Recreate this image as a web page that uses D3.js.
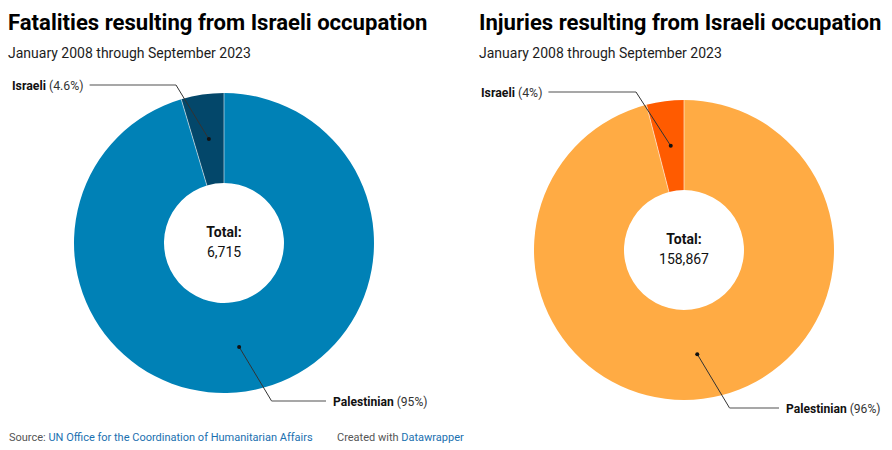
<!DOCTYPE html>
<html><head><meta charset="utf-8">
<script src="https://cdn.jsdelivr.net/npm/d3@7"></script>
<style>
body{margin:0;background:#fff;font-family:Roboto,"Noto Sans",sans-serif;}
svg{display:block}
</style></head>
<body>
<svg id="c" width="892" height="450"></svg>
<script>
const categories = ["Palestinian", "Israeli"];
const fatalities = [6406, 309];
const fatalityLabels = ["95%", "4.6%"];
const injuries = [152467, 6400];
const injuryLabels = ["96%", "4%"];
const titles = ["Fatalities resulting from Israeli occupation", "Injuries resulting from Israeli occupation"];
const subtitle = "January 2008 through September 2023";
const totals = ["6,715", "158,867"];

const svg = d3.select("#c");

const charts = [
  {x0: 8, title: titles[0], values: fatalities, labels: fatalityLabels, total: totals[0],
   cx: 224, cy: 243, colors: ["#0081b6", "#03476a"], sep: "rgba(255,255,255,0.55)",
   israeliLabel: {x: 12, y: 85, bendX: 176}, palLabel: {bendY: 401, textX: 333}},
  {x0: 479, title: titles[1], values: injuries, labels: injuryLabels, total: totals[1],
   cx: 684, cy: 250, colors: ["#ffab44", "#ff5b00"], sep: "rgba(255,255,255,0.55)",
   israeliLabel: {x: 481, y: 92, bendX: 636}, palLabel: {bendY: 408, textX: 786}}
];

const rOuter = 150, rInner = 60, rMid = 105;
const pie = d3.pie().sort(null).value(d => d);
const arc = d3.arc().innerRadius(rInner).outerRadius(rOuter);

charts.forEach(c => {
  svg.append("text").attr("x", c.x0).attr("y", 30)
    .attr("font-size", 22.1).attr("font-weight", 700).attr("fill", "#000")
    .text(c.title);
  svg.append("text").attr("x", c.x0).attr("y", 58)
    .attr("font-size", 14).attr("fill", "#1d1d1d")
    .text(subtitle);

  const g = svg.append("g").attr("transform", `translate(${c.cx},${c.cy})`);
  const arcs = pie(c.values);
  g.selectAll("path").data(arcs).enter().append("path")
    .attr("d", arc).attr("fill", (d, i) => c.colors[i]);
  arcs.forEach(a => {
    const ang = a.startAngle;
    g.append("line")
      .attr("x1", rInner * Math.sin(ang)).attr("y1", -rInner * Math.cos(ang))
      .attr("x2", rOuter * Math.sin(ang)).attr("y2", -rOuter * Math.cos(ang))
      .attr("stroke", c.sep).attr("stroke-width", 1);
  });

  g.append("text").attr("x", 0).attr("y", -6).attr("text-anchor", "middle")
    .attr("font-size", 14).attr("font-weight", 700).attr("fill", "#111").text("Total:");
  g.append("text").attr("x", 0).attr("y", 14).attr("text-anchor", "middle")
    .attr("font-size", 14).attr("fill", "#111").text(c.total);

  const mid = a => (a.startAngle + a.endAngle) / 2;
  const pt = a => [c.cx + rMid * Math.sin(mid(a)), c.cy - rMid * Math.cos(mid(a))];

  const isr = arcs[1], ip = pt(isr);
  const il = c.israeliLabel;
  const t1 = svg.append("text").attr("x", il.x).attr("y", il.y + 4.5)
    .attr("font-size", 12.3).attr("fill", "#111");
  t1.append("tspan").attr("font-weight", 700).text(categories[1]);
  t1.append("tspan").attr("fill", "#333").text(" (" + c.labels[1] + ")");
  const tw = t1.node().getComputedTextLength();
  svg.append("line").attr("x1", il.x + tw + 6).attr("y1", il.y).attr("x2", il.bendX).attr("y2", il.y)
    .attr("stroke", "#8a8a8a").attr("stroke-width", 1.3);
  svg.append("line").attr("x1", il.bendX).attr("y1", il.y).attr("x2", ip[0]).attr("y2", ip[1])
    .attr("stroke", "#333").attr("stroke-width", 1);
  svg.append("circle").attr("cx", ip[0]).attr("cy", ip[1]).attr("r", 2).attr("fill", "#111");

  const pal = arcs[0], pp = pt(pal);
  const pl = c.palLabel;
  const bendX = pp[0] + (pl.bendY - pp[1]) * 0.6;
  svg.append("line").attr("x1", pp[0]).attr("y1", pp[1]).attr("x2", bendX).attr("y2", pl.bendY)
    .attr("stroke", "#333").attr("stroke-width", 1);
  svg.append("line").attr("x1", bendX).attr("y1", pl.bendY).attr("x2", pl.textX - 7).attr("y2", pl.bendY)
    .attr("stroke", "#8a8a8a").attr("stroke-width", 1.3);
  svg.append("circle").attr("cx", pp[0]).attr("cy", pp[1]).attr("r", 2).attr("fill", "#111");
  const t2 = svg.append("text").attr("x", pl.textX).attr("y", pl.bendY + 4.5)
    .attr("font-size", 12.1).attr("fill", "#111");
  t2.append("tspan").attr("font-weight", 700).text(categories[0]);
  t2.append("tspan").attr("fill", "#333").text(" (" + c.labels[0] + ")");
});

const f = svg.append("text").attr("x", 9).attr("y", 441).attr("font-size", 11).attr("fill", "#555");
f.append("tspan").text("Source: ");
f.append("tspan").attr("fill", "#1a70b0").text("UN Office for the Coordination of Humanitarian Affairs");
const f2 = svg.append("text").attr("x", 337).attr("y", 441).attr("font-size", 11).attr("fill", "#555");
f2.append("tspan").text("Created with ");
f2.append("tspan").attr("fill", "#1a70b0").text("Datawrapper");
</script>
</body></html>
